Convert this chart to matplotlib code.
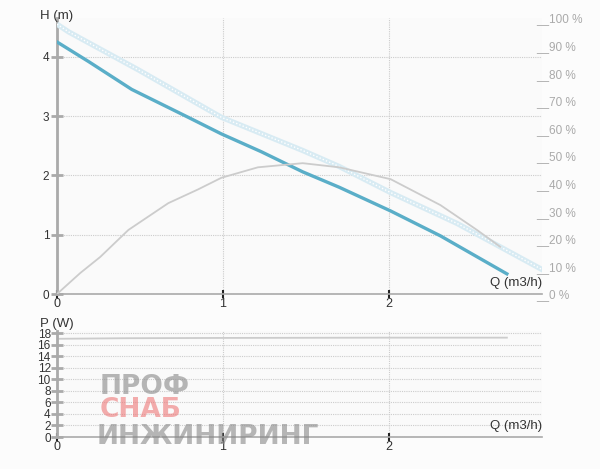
import matplotlib.pyplot as plt

plt.rcParams['font.family'] = ['Liberation Sans', 'DejaVu Sans']

# рабочая кривая насоса H(Q)
q_head = [0, 0.19, 0.45, 0.79, 0.99, 1.23, 1.48, 1.70, 2.01, 2.31, 2.71]
h_head = [4.25, 3.92, 3.45, 2.98, 2.70, 2.40, 2.06, 1.80, 1.40, 0.98, 0.34]

# максимальная кривая (светлая)
q_max = [0, 0.07, 0.49, 0.99, 1.48, 1.70, 2.01, 2.41, 2.93]
h_max = [4.55, 4.42, 3.78, 2.98, 2.42, 2.15, 1.71, 1.19, 0.40]

# КПД, %
q_eff = [0, 0.14, 0.26, 0.43, 0.67, 0.85, 0.99, 1.21, 1.48, 1.70, 2.01, 2.31, 2.53, 2.67]
eff = [0, 7.6, 13.4, 23.2, 32.9, 37.9, 42.1, 45.9, 47.4, 45.9, 41.6, 32.2, 23.2, 17.1]

# мощность P(Q)
q_pow = [0, 0.4, 1.0, 2.0, 2.71]
p_pow = [17.0, 17.1, 17.15, 17.2, 17.2]

h_ticks = [0, 1, 2, 3, 4]
p_ticks = [0, 2, 4, 6, 8, 10, 12, 14, 16, 18]
q_ticks = [0, 1, 2]
pct_ticks = [0, 10, 20, 30, 40, 50, 60, 70, 80, 90, 100]

W, H = 600, 469
fig = plt.figure(figsize=(6, 4.69), dpi=100, facecolor='#fcfcfc')
ax = fig.add_axes([57 / W, 1 - 294 / H, 485 / W, 276 / H], facecolor='#fafafa')
ax2 = ax.twinx()
axp = fig.add_axes([57 / W, 1 - 437 / H, 485 / W, 106 / H], facecolor='#fafafa')

xmax = 485 / 166.0

for a in (ax, axp):
    a.set_xlim(0, xmax)
    a.set_xticks(q_ticks)
    for s in ('top', 'right'):
        a.spines[s].set_visible(False)
    a.spines['left'].set_color('#aaaaaa')
    a.spines['left'].set_linewidth(2)
    a.spines['bottom'].set_color('#aaaaaa')
    a.spines['bottom'].set_linewidth(1.2)
    a.tick_params(axis='x', direction='inout', length=6, width=1.5, color='#222222',
                  labelsize=9, labelcolor='#333333', pad=0)
    a.tick_params(axis='y', direction='inout', length=9, width=2, color='#aaaaaa',
                  labelsize=8.5, labelcolor='#333333', pad=1)
    a.grid(True, color='#cccccc', linestyle=(0, (1, 1)), linewidth=0.8)
    a.set_axisbelow(True)

ax.set_ylim(0, 4.654)
ax.set_yticks(h_ticks)
axp.set_ylim(0, 18.35)
axp.set_yticks(p_ticks)
axp.tick_params(axis='y', labelsize=8.5, pad=0)

ax2.set_ylim(0, 100)
ax2.set_yticks(pct_ticks)
ax2.set_yticklabels(['__%d %%' % v for v in pct_ticks])
ax2.tick_params(axis='y', length=0, labelsize=8.5, labelcolor='#aaaaaa', pad=-4)
for s in ('top', 'right', 'left', 'bottom'):
    ax2.spines[s].set_visible(False)

ax.plot(q_max, h_max, color='#d8ebf3', linewidth=3.8, solid_capstyle='butt', zorder=3)
ax.plot(q_max, h_max, color='#ffffff', linewidth=1, linestyle=(0, (1, 1.5)), zorder=3)
ax.plot(q_head, h_head, color='#5aaec8', linewidth=2.4, zorder=4)
ax2.plot(q_eff, eff, color='#cccccc', linewidth=1.3)

axp.plot(q_pow, p_pow, color='#cccccc', linewidth=1.3)

fig.text(40 / W, 1 - 16 / H, 'H (m)', fontsize=9.5, color='#333333', va='center')
fig.text(40 / W, 1 - 324 / H, 'P (W)', fontsize=9.5, color='#333333', va='center')
fig.text(542 / W, 1 - 289 / H, 'Q (m3/h)', fontsize=9.5, color='#333333', ha='right', va='bottom')
fig.text(542 / W, 1 - 432 / H, 'Q (m3/h)', fontsize=9.5, color='#333333', ha='right', va='bottom')

# водяной знак
fig.text(100 / W, 1 - 387 / H, 'ПРОФ', fontsize=19, fontweight='bold', color='#888888',
         alpha=0.6, va='center', family='DejaVu Sans')
fig.text(100 / W, 1 - 410 / H, 'СНАБ', fontsize=19, fontweight='bold', color='#ee7777',
         alpha=0.6, va='center', family='DejaVu Sans')
fig.text(97 / W, 1 - 437 / H, 'ИНЖИНИРИНГ', fontsize=19, fontweight='bold', color='#888888',
         alpha=0.6, va='center', family='DejaVu Sans')

fig.savefig('out.png', dpi=100, facecolor=fig.get_facecolor())
